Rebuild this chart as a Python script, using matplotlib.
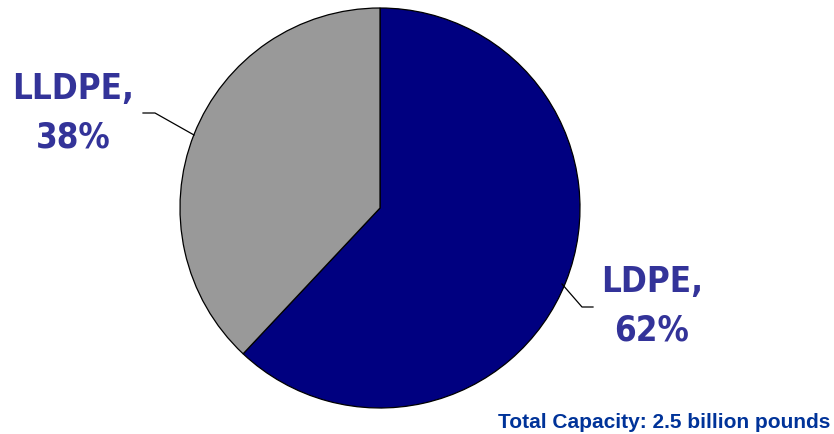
import matplotlib.pyplot as plt

# data
labels = ['LDPE', 'LLDPE']
shares = [62, 38]
colors = ['#000080', '#999999']
note = 'Total Capacity: 2.5 billion pounds'

W, H = 834, 434
fig = plt.figure(figsize=(W / 100, H / 100), dpi=100)

# pie axes: center (380,208) px, radius 200 px
ax = fig.add_axes([180 / W, (H - 408) / H, 400 / W, 400 / H])
ax.pie(shares, colors=colors, startangle=90, counterclock=False, radius=1,
       wedgeprops=dict(edgecolor='black', linewidth=0.9))
ax.set_xlim(-1, 1)
ax.set_ylim(-1, 1)
ax.set_aspect('equal')
ax.axis('off')

lab_style = dict(color='#333399', fontsize=25, fontweight='bold',
                 fontstretch='condensed', family='DejaVu Sans',
                 ha='center', va='center', linespacing=1.55)


def px(x, y):
    return x / W, 1 - y / H


fig.text(*px(73, 113), f'{labels[1]},\n{shares[1]}%', **lab_style)
fig.text(*px(652, 306), f'{labels[0]},\n{shares[0]}%', **lab_style)

# leader lines
fig.add_artist(plt.Line2D([143 / W, 155 / W, 194 / W],
                          [1 - 113 / H, 1 - 113 / H, 1 - 135 / H],
                          color='black', linewidth=0.9))
fig.add_artist(plt.Line2D([562 / W, 582 / W, 593 / W],
                          [1 - 284 / H, 1 - 307 / H, 1 - 307 / H],
                          color='black', linewidth=0.9))

fig.text(*px(830, 423), note, color='#003399', fontsize=15,
         fontweight='bold', family='Liberation Sans', ha='right', va='center')

fig.savefig('out.png', dpi=100, facecolor='white')
